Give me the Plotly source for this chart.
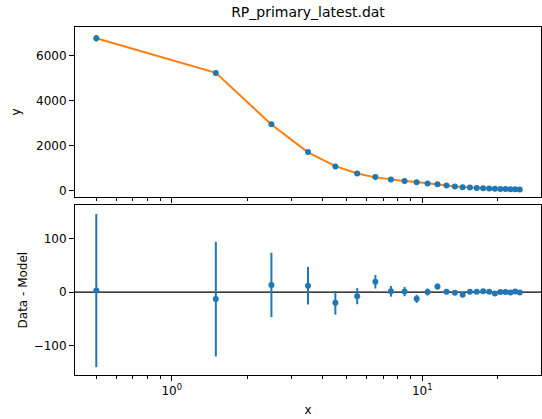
import plotly.graph_objects as go
from plotly.subplots import make_subplots

# ---- data ----
x_vals = [0.5, 1.5, 2.5, 3.5, 4.5, 5.5, 6.5, 7.5, 8.5, 9.5, 10.5, 11.5, 12.5,
          13.5, 14.5, 15.5, 16.5, 17.5, 18.5, 19.5, 20.5, 21.5, 22.5, 23.5, 24.5]
y_data = [6780, 5230, 2965, 1725, 1081, 770, 622, 504, 444, 385, 330, 294, 240,
          200, 168, 150, 135, 120, 108, 100, 90, 85, 78, 73, 68]
y_err = [143, 107, 60, 35, 22, 15, 12.5, 10, 8.7, 7.5, 6.5, 5.5, 4.5,
         4, 3.5, 3.2, 3, 2.8, 2.6, 2.5, 2.4, 2.3, 2.2, 2.1, 2]
residuals = [3, -13, 13.5, 12, -20, -7.5, 19.3, 1.5, 1, -12.5, 0.3, 10.5, 0.5,
             -1.2, -5, 0.6, 0.8, 1.8, 0.6, -2.5, 0.2, 0.2, -0.5, 1.2, -0.6]
model = [d - r for d, r in zip(y_data, residuals)]

title_text = "RP_primary_latest.dat"
major_ticks = [1, 10]
major_labels = ["10<sup>0</sup>", "10<sup>1</sup>"]
minor_ticks = [0.5, 0.6, 0.7, 0.8, 0.9, 2, 3, 4, 5, 6, 7, 8, 9, 20]

BLUE = "#1f77b4"
ORANGE = "#ff7f0e"
FONT = "DejaVu Sans"

W, H = 542, 419
m_l, m_r, m_t, m_b = 75, 1, 27, 44
plot_h = H - m_t - m_b
top_dom = [(H - m_b - 196.7) / plot_h, 1.0]
bot_dom = [0.0, (H - m_b - 205.3) / plot_h]

fig = make_subplots(rows=2, cols=1, shared_xaxes=True)

fig.add_trace(go.Scatter(x=x_vals, y=model, mode="lines",
                         line=dict(color=ORANGE, width=2), showlegend=False),
              row=1, col=1)
fig.add_trace(go.Scatter(x=x_vals, y=y_data, mode="markers",
                         marker=dict(color=BLUE, size=6),
                         error_y=dict(type="data", array=y_err, color=BLUE,
                                      thickness=2, width=0),
                         showlegend=False),
              row=1, col=1)
fig.add_trace(go.Scatter(x=x_vals, y=residuals, mode="markers",
                         marker=dict(color=BLUE, size=6),
                         error_y=dict(type="data", array=y_err, color=BLUE,
                                      thickness=2, width=0),
                         showlegend=False),
              row=2, col=1)
fig.add_hline(y=0, line=dict(color="black", width=1.2), row=2, col=1, layer="below")

axis_common = dict(showline=True, linecolor="black", linewidth=1, mirror=True,
                   ticks="outside", ticklen=5, tickcolor="black",
                   showgrid=False, zeroline=False,
                   tickfont=dict(family=FONT, size=12, color="black"))

xr = [-0.386, 1.474]
fig.update_xaxes(type="log", range=xr, tickvals=major_ticks, ticktext=major_labels,
                 minor=dict(tickvals=minor_ticks, ticks="outside", ticklen=3,
                            tickcolor="black", showgrid=False),
                 **axis_common)
fig.update_xaxes(showticklabels=False, row=1, col=1)
fig.update_xaxes(title=dict(text="x", font=dict(family=FONT, size=12, color="black"),
                            standoff=8), row=2, col=1)

fig.update_yaxes(**axis_common)
fig.update_yaxes(range=[-255, 7275], tickvals=[0, 2000, 4000, 6000],
                 title=dict(text="y", font=dict(family=FONT, size=12, color="black"),
                            standoff=12),
                 domain=top_dom, row=1, col=1)
fig.update_yaxes(range=[-154.6, 162], tickvals=[-100, 0, 100],
                 title=dict(text="Data - Model", font=dict(family=FONT, size=12, color="black"),
                            standoff=3),
                 domain=bot_dom, row=2, col=1)

fig.update_layout(
    width=W, height=H,
    margin=dict(l=m_l, r=m_r, t=m_t, b=m_b, autoexpand=False),
    paper_bgcolor="white", plot_bgcolor="white",
    font=dict(family=FONT, size=12, color="black"),
    title=dict(text=title_text, x=0.5, xref="paper", xanchor="center",
               y=1 - 12 / H, yref="container", yanchor="middle",
               font=dict(family=FONT, size=14, color="black")),
    showlegend=False,
)

fig.write_html(
    "out.html",
    config={"displayModeBar": False},
    post_script="document.body.style.margin='0';document.body.style.padding='0';"
                "document.body.style.overflow='hidden';"
                "document.documentElement.style.overflow='hidden';",
)
